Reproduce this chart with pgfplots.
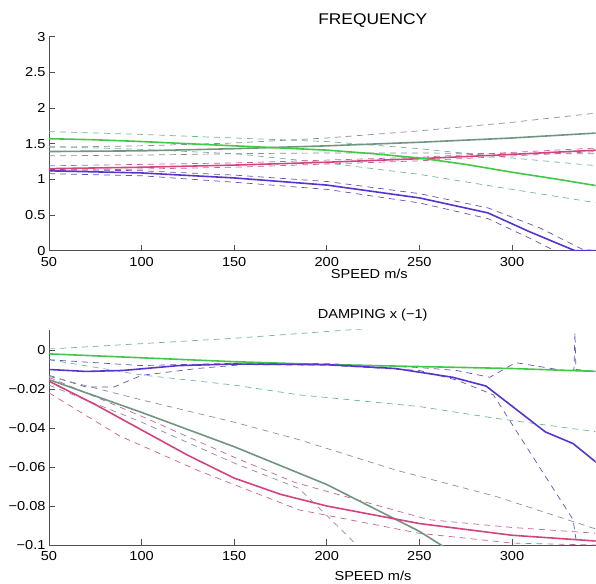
\documentclass[border=0pt]{standalone}
\usepackage{fontspec}
\setmainfont[FakeStretch=1.12]{Liberation Sans}
\usepackage{pgfplots}
\pgfplotsset{compat=1.18}

\definecolor{cGreen}{RGB}{64,200,72}
\definecolor{cGray}{RGB}{112,150,130}
\definecolor{cPink}{RGB}{212,66,128}
\definecolor{cBlue}{RGB}{88,52,204}
\definecolor{dGreen}{RGB}{110,184,146}
\definecolor{dGray}{RGB}{140,140,158}
\definecolor{dPink}{RGB}{200,96,148}
\definecolor{dBlue}{RGB}{96,84,176}
\definecolor{axgray}{RGB}{80,80,80}

\pgfplotsset{
  matlab/.style={
    scale only axis, width=546.5pt,
    xmin=50, xmax=345.1, xtick={50,100,...,300},
    axis x line*=bottom, axis y line*=left,
    axis line style={axgray, line width=1pt},
    tick align=inside, tick pos=left,
    major tick style={axgray, line width=0.8pt},
    major tick length=6pt,
    tick label style={font=\fontsize{13}{15}\selectfont, black},
    /pgf/number format/assume math mode=true,
    xticklabel style={yshift=-3pt},
  },
  sol/.style={line width=1.6pt},
  dsh/.style={line width=0.7pt, dash pattern=on 6pt off 5pt},
}

\begin{document}
\begin{tikzpicture}
\path (0,0) rectangle (596pt,583pt);

% FREQUENCY
\begin{axis}[matlab, at={(49pt,332.3pt)}, anchor=south west,
  height=214pt, ymin=0, ymax=3, ytick={0,0.5,...,3}]
  \addplot[dsh, dGreen] coordinates {(50,1.67)(100,1.63)(150,1.58)(200,1.53)(250,1.43)(300,1.30)(346,1.19)};
  \addplot[dsh, dGreen] coordinates {(50,1.46)(100,1.42)(150,1.36)(200,1.23)(250,1.07)(300,0.86)(346,0.67)};
  \addplot[dsh, dGray] coordinates {(50,1.45)(100,1.47)(150,1.51)(200,1.58)(250,1.68)(300,1.80)(346,1.93)};
  \addplot[dsh, dGray] coordinates {(50,1.33)(100,1.34)(150,1.36)(200,1.37)(250,1.37)(300,1.36)(346,1.36)};
  \addplot[dsh, dPink] coordinates {(50,1.19)(150,1.23)(250,1.31)(346,1.44)};
  \addplot[dsh, dPink] coordinates {(50,1.12)(150,1.17)(250,1.26)(346,1.39)};
  \addplot[dsh, dBlue] coordinates {(50,1.14)(100,1.12)(150,1.06)(200,0.97)(250,0.80)(287,0.60)(315,0.32)(338,0.02)(345,0)};
  \addplot[dsh, dBlue] coordinates {(50,1.08)(100,1.05)(150,0.96)(200,0.86)(250,0.67)(287,0.45)(310,0.17)(323,0)(346,0)};
  \addplot[sol, cGray] coordinates {(50,1.39)(100,1.40)(150,1.43)(200,1.47)(250,1.52)(300,1.58)(346,1.65)};
  \addplot[sol, cPink] coordinates {(50,1.15)(100,1.17)(150,1.20)(200,1.24)(250,1.29)(300,1.35)(346,1.41)};
  \addplot[sol, cGreen] coordinates {(50,1.57)(75,1.555)(100,1.53)(125,1.50)(150,1.47)(175,1.44)(200,1.41)(225,1.36)(250,1.30)(275,1.21)(300,1.10)(325,1.00)(346,0.91)};
  \addplot[sol, cBlue] coordinates {(50,1.12)(100,1.09)(150,1.02)(200,0.92)(250,0.74)(287,0.53)(310,0.26)(334,0)(346,0)};
\end{axis}

% DAMPING
\begin{axis}[matlab, at={(49pt,38pt)}, anchor=south west,
  height=215.1pt, ymin=-0.1, ymax=0.0103,
  ytick={-0.1,-0.08,-0.06,-0.04,-0.02,0},
  yticklabels={−0.1,−0.08,−0.06,−0.04,−0.02,0}]
  \addplot[dsh, dGreen] coordinates {(50,0.0005)(150,0.006)(212,0.0103)(240,0.012)};
  \addplot[dsh, dGreen] coordinates {(50,-0.005)(100,-0.0128)(150,-0.018)(185,-0.023)(250,-0.029)(291,-0.035)(346,-0.042)};
  \addplot[dsh, dBlue] coordinates {(50,-0.005)(100,-0.008)(150,-0.0068)(200,-0.007)(250,-0.009)(270,-0.0105)(288,-0.014)(302,-0.0065)(331,-0.011)(333.5,-0.010)(334,0.009)(334.5,-0.010)(346,-0.011)};
  \addplot[dsh, dBlue] coordinates {(50,-0.013)(70,-0.019)(85,-0.019)(100,-0.013)(130,-0.0095)(155,-0.0075)(200,-0.0078)(250,-0.0105)(270,-0.0154)(290,-0.023)(302,-0.041)(333,-0.087)(335,-0.1)};
  \addplot[dsh, dGray] coordinates {(50,-0.0135)(100,-0.0256)(150,-0.037)(185,-0.046)(237,-0.0615)(291,-0.075)(346,-0.092)};
  \addplot[dsh, dGray] coordinates {(50,-0.018)(100,-0.037)(150,-0.058)(185,-0.071)(212,-0.096)(216,-0.1)};
  \addplot[dsh, dPink] coordinates {(50,-0.014)(100,-0.034)(150,-0.055)(183,-0.068)(255,-0.087)(300,-0.091)(346,-0.094)};
  \addplot[dsh, dPink] coordinates {(50,-0.022)(88,-0.044)(131,-0.062)(185,-0.082)(250,-0.094)(300,-0.099)(346,-0.1)};
  \addplot[sol, cGray] coordinates {(50,-0.0152)(100,-0.032)(150,-0.0496)(200,-0.069)(250,-0.093)(265,-0.102)};
  \addplot[sol, cPink] coordinates {(50,-0.016)(75,-0.028)(100,-0.041)(125,-0.054)(150,-0.0657)(175,-0.074)(200,-0.080)(250,-0.089)(300,-0.095)(346,-0.098)};
  \addplot[sol, cGreen] coordinates {(50,-0.002)(100,-0.004)(150,-0.006)(200,-0.0075)(250,-0.0085)(300,-0.0095)(346,-0.011)};
  \addplot[sol, cBlue] coordinates {(50,-0.010)(70,-0.011)(90,-0.0105)(120,-0.008)(150,-0.0072)(200,-0.0075)(237,-0.0095)(268,-0.014)(286,-0.0185)(318,-0.042)(333,-0.048)(346,-0.058)};
\end{axis}

\node[anchor=base, font=\fontsize{15.5}{17}\selectfont] at (372.8pt,558pt) {FREQUENCY};
\node[anchor=base, font=\fontsize{13}{15}\selectfont] at (369.3pt,304.7pt) {SPEED m/s};
\node[anchor=base, font=\fontsize{13}{15}\selectfont] at (372.7pt,264.7pt) {DAMPING x (−1)};
\node[anchor=base, font=\fontsize{13}{15}\selectfont] at (373pt,3pt) {SPEED m/s};
\end{tikzpicture}
\end{document}
